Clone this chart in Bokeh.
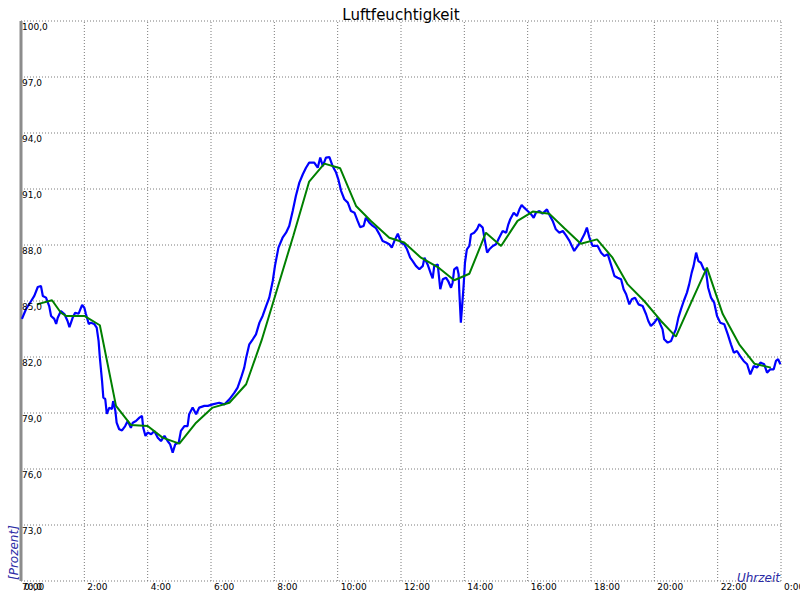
import math
from bokeh.plotting import figure
from bokeh.models import Range1d
from bokeh.core.properties import value
from bokeh.embed import file_html
from bokeh.resources import INLINE

# --- data -----------------------------------------------------------------
hours_raw = [0.03, 0.16, 0.32, 0.42, 0.53, 0.63, 0.69, 0.79, 0.89, 0.95, 1.05, 1.11, 1.16, 1.26, 1.37,
             1.47, 1.53, 1.63, 1.71, 1.82, 1.93, 2.0, 2.05, 2.14, 2.21, 2.31, 2.39, 2.45, 2.49, 2.56,
             2.6, 2.66, 2.71, 2.79, 2.87, 2.91, 2.98, 3.02, 3.1, 3.19, 3.29, 3.37, 3.47, 3.53, 3.63,
             3.74, 3.82, 3.86, 3.93, 4.0, 4.11, 4.21, 4.32, 4.42, 4.53, 4.63, 4.71, 4.79, 4.87, 4.98,
             5.05, 5.16, 5.26, 5.31, 5.42, 5.53, 5.63, 5.79, 5.9, 6.05, 6.26, 6.42, 6.58, 6.74, 6.84,
             6.95, 7.05, 7.11, 7.21, 7.32, 7.42, 7.53, 7.63, 7.74, 7.84, 7.95, 8.02, 8.13, 8.26, 8.37,
             8.47, 8.58, 8.68, 8.79, 8.9, 9.0, 9.1, 9.26, 9.37, 9.45, 9.53, 9.63, 9.74, 9.84, 9.95,
             10.02, 10.11, 10.21, 10.32, 10.42, 10.53, 10.63, 10.71, 10.82, 10.89, 11.0, 11.11, 11.21,
             11.32, 11.42, 11.53, 11.63, 11.71, 11.79, 11.9, 12.0, 12.1, 12.19, 12.29, 12.37, 12.47,
             12.58, 12.69, 12.74, 12.84, 12.95, 13.0, 13.05, 13.16, 13.24, 13.32, 13.42, 13.49, 13.58,
             13.63, 13.68, 13.77, 13.82, 13.84, 13.89, 13.95, 13.98, 14.02, 14.08, 14.16, 14.21, 14.31,
             14.4, 14.47, 14.58, 14.65, 14.72, 14.79, 14.9, 15.0, 15.1, 15.21, 15.32, 15.39, 15.45,
             15.56, 15.66, 15.74, 15.81, 15.89, 16.0, 16.11, 16.19, 16.26, 16.37, 16.47, 16.61, 16.68,
             16.79, 16.89, 17.0, 17.11, 17.21, 17.31, 17.37, 17.47, 17.58, 17.68, 17.79, 17.87, 17.95,
             18.05, 18.21, 18.32, 18.42, 18.53, 18.63, 18.74, 18.84, 18.95, 19.03, 19.11, 19.21, 19.29,
             19.39, 19.5, 19.63, 19.74, 19.81, 19.89, 20.0, 20.11, 20.19, 20.26, 20.31, 20.42, 20.53,
             20.61, 20.68, 20.76, 20.84, 20.93, 21.03, 21.1, 21.18, 21.24, 21.32, 21.39, 21.47, 21.56,
             21.63, 21.7, 21.79, 21.89, 21.98, 22.08, 22.21, 22.32, 22.42, 22.51, 22.61, 22.71, 22.82,
             22.93, 23.03, 23.14, 23.24, 23.35, 23.47, 23.56, 23.66, 23.77, 23.84, 23.91, 23.98]
humidity_raw = [84.04, 84.57, 85.0, 85.27, 85.75, 85.8, 85.27, 85.18, 84.73, 84.2, 84.04, 83.77, 84.1,
                84.46, 84.3, 83.93, 83.6, 84.1, 84.37, 84.32, 84.79, 84.64, 84.3, 83.77, 83.84, 83.77,
                83.57, 82.86, 81.96, 80.71, 79.82, 79.75, 78.95, 79.29, 79.21, 79.64, 79.11, 78.48,
                78.13, 78.07, 78.3, 78.57, 78.21, 78.48, 78.57, 78.75, 78.84, 78.21, 77.77, 77.95,
                77.86, 78.04, 77.68, 77.5, 77.77, 77.5, 77.32, 76.88, 77.32, 77.41, 78.04, 78.3, 78.3,
                78.93, 79.29, 78.93, 79.29, 79.38, 79.38, 79.46, 79.55, 79.46, 79.73, 80.09, 80.36,
                80.89, 81.43, 81.96, 82.68, 82.95, 83.21, 83.84, 84.2, 84.73, 85.18, 86.07, 86.88,
                87.86, 88.39, 88.66, 89.02, 89.82, 90.63, 91.34, 91.79, 92.14, 92.41, 92.41, 92.14,
                92.68, 92.23, 92.68, 92.71, 92.23, 91.88, 91.52, 90.89, 90.45, 90.27, 89.82, 89.73,
                89.29, 88.96, 89.02, 89.46, 89.2, 89.02, 88.9, 88.57, 88.21, 88.13, 88.04, 87.86,
                88.21, 88.61, 88.13, 88.04, 87.77, 87.32, 87.14, 86.88, 86.7, 86.88, 87.32, 86.96,
                86.43, 86.21, 86.88, 86.96, 85.63, 86.16, 86.25, 86.07, 85.71, 85.98, 86.7, 86.82,
                86.43, 85.54, 83.84, 85.18, 85.89, 87.05, 87.77, 87.95, 88.57, 88.66, 88.84, 89.11,
                88.93, 88.21, 87.59, 87.77, 87.95, 88.04, 88.39, 88.75, 88.66, 89.11, 89.38, 89.73,
                89.55, 89.91, 90.14, 90.0, 89.82, 89.64, 89.46, 89.73, 89.82, 89.68, 89.91, 89.64,
                89.29, 88.84, 88.66, 88.75, 88.52, 88.25, 88.04, 87.68, 87.95, 88.21, 88.57, 88.93,
                88.39, 87.95, 87.95, 87.59, 87.41, 87.5, 86.96, 86.34, 86.25, 86.16, 85.63, 85.36,
                84.82, 85.09, 85.18, 84.82, 84.73, 84.29, 83.93, 83.66, 83.84, 84.11, 83.75, 83.48,
                82.95, 82.77, 82.86, 83.21, 83.48, 84.11, 84.55, 85.0, 85.45, 85.89, 86.52, 86.88,
                87.59, 87.14, 87.05, 86.7, 86.61, 85.71, 85.18, 84.91, 84.2, 83.84, 83.75, 83.21,
                82.68, 82.23, 82.32, 82.05, 81.79, 81.61, 81.07, 81.52, 81.43, 81.7, 81.61, 81.16,
                81.34, 81.34, 81.79, 81.88, 81.61]

hours_avg = [0.5, 0.98, 1.26, 1.42, 2.0, 2.49, 3.0, 3.47, 4.0, 4.47, 5.0, 5.53, 6.05, 6.58, 7.11,
             7.6, 8.1, 8.6, 9.1, 9.58, 10.08, 10.58, 11.05, 11.63, 12.1, 12.63, 13.16, 13.68, 14.16,
             14.68, 15.16, 15.68, 16.16, 16.68, 17.16, 17.68, 18.19, 18.68, 19.16, 19.68, 20.21,
             20.68, 21.16, 21.66, 22.16, 22.68, 23.16, 23.68]
humidity_avg = [84.82, 85.04, 84.37, 84.2, 84.2, 83.7, 79.38, 78.36, 78.3, 77.68, 77.36, 78.48, 79.29,
                79.55, 80.54, 82.9, 85.7, 88.5, 91.4, 92.36, 92.11, 90.09, 89.29, 88.39, 88.13, 87.32,
                86.82, 86.11, 86.46, 88.66, 87.95, 89.29, 89.79, 89.68, 88.9, 88.07, 88.3, 87.32,
                85.89, 85.0, 83.93, 83.09, 84.91, 86.79, 84.3, 82.68, 81.64, 81.43]

x_ticks = [0, 2, 4, 6, 8, 10, 12, 14, 16, 18, 20, 22, 24]
x_tick_labels = ["0:00", "2:00", "4:00", "6:00", "8:00", "10:00", "12:00", "14:00", "16:00",
                 "18:00", "20:00", "22:00", "0:00"]
y_ticks = [100, 97, 94, 91, 88, 85, 82, 79, 76, 73, 70]
y_tick_labels = ["100,0", "97,0", "94,0", "91,0", "88,0", "85,0", "82,0", "79,0", "76,0",
                 "73,0", "70,0"]

title_text = "Luftfeuchtigkeit"
x_label = "Uhrzeit"
y_label = "[Prozent]"

# --- layout (pixels) -------------------------------------------------------
W, H = 800, 600
MARGIN = 20.5  # plot area inset from each canvas edge (half pixel for crisp 1px lines)
x_lo, x_hi = min(x_ticks), max(x_ticks)
y_lo, y_hi = min(y_ticks), max(y_ticks)
px_x = (W - 2 * MARGIN + 1) / (x_hi - x_lo)
px_y = (H - 2 * MARGIN + 1) / (y_hi - y_lo)

FONT = value("DejaVu Sans")
LABEL_BLUE = "#2a2aa5"
GRID = "#7a7a7a"

p = figure(width=W, height=H, output_backend="svg", toolbar_location=None, title=None,
           x_range=Range1d(x_lo - MARGIN / px_x, x_hi + (W - MARGIN - (x_hi - x_lo) * px_x) / px_x),
           y_range=Range1d(y_lo - (H - MARGIN - (y_hi - y_lo) * px_y) / px_y, y_hi + MARGIN / px_y),
           min_border=0)
p.axis.visible = False
p.grid.visible = False
p.outline_line_color = None
p.background_fill_color = "white"
p.border_fill_color = "white"

# dotted grid restricted to the plot area
nx, ny = len(x_ticks), len(y_ticks)
p.segment(x0=x_ticks, y0=[y_lo] * nx, x1=x_ticks, y1=[y_hi] * nx,
          line_color=GRID, line_width=1, line_dash="1 2")
p.segment(x0=[x_lo] * ny, y0=y_ticks, x1=[x_hi] * ny, y1=y_ticks,
          line_color=GRID, line_width=1, line_dash="1 2")
# solid left axis line
p.segment(x0=[x_lo], y0=[y_lo], x1=[x_lo], y1=[y_hi], line_color="#8c8c8c", line_width=3)

# data
p.line(hours_raw, humidity_raw, line_color="#0000ff", line_width=2.2)
p.line(hours_avg, humidity_avg, line_color="#008000", line_width=2)

# tick labels
p.text(x=[x_lo] * ny, y=y_ticks, text=y_tick_labels, x_offset=1, y_offset=2,
       text_align="left", text_baseline="top", text_font=FONT, text_font_size="9px",
       text_color="black")
p.text(x=x_ticks, y=[y_lo] * nx, text=x_tick_labels, x_offset=3, y_offset=1,
       text_align="left", text_baseline="top", text_font=FONT, text_font_size="9px",
       text_color="black")

# title and axis titles
p.text(x=[(x_lo + x_hi) / 2], y=[y_hi], text=[title_text], y_offset=-6,
       text_align="center", text_baseline="alphabetic", text_font=FONT,
       text_font_size="15px", text_color="black")
p.text(x=[x_hi], y=[y_lo], text=[x_label], x_offset=-1, y_offset=-3,
       text_align="right", text_baseline="alphabetic", text_font=FONT,
       text_font_size="12px", text_font_style="italic", text_color=LABEL_BLUE)
p.text(x=[x_lo], y=[y_lo], text=[y_label], angle=math.pi / 2, x_offset=-7, y_offset=-1,
       text_align="left", text_baseline="alphabetic", text_font=FONT,
       text_font_size="12px", text_font_style="italic", text_color=LABEL_BLUE)

open("out.html", "w").write(file_html(p, INLINE))
